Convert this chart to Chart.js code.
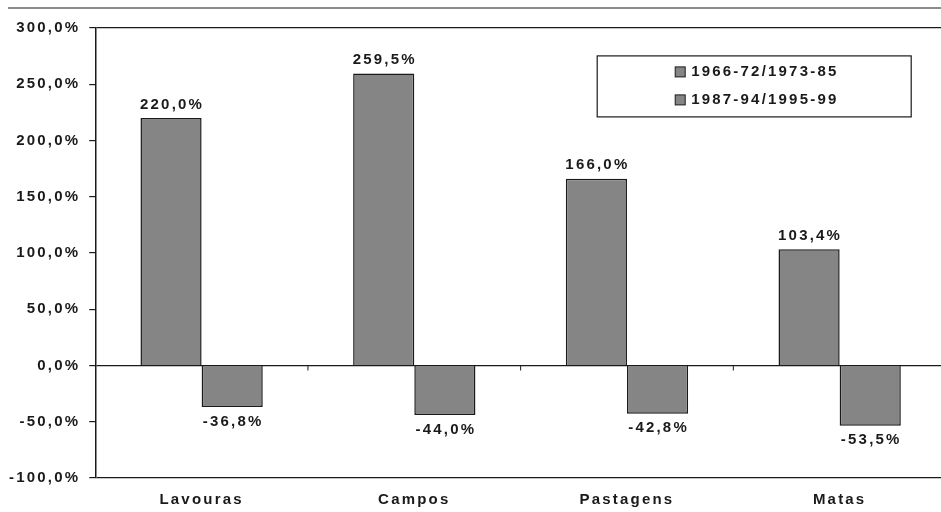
<!DOCTYPE html>
<html>
<head>
<meta charset="utf-8">
<script src="https://cdn.jsdelivr.net/npm/chart.js@4.4.1/dist/chart.umd.min.js"></script>
<style>
  html, body { margin: 0; padding: 0; background: #fff; overflow: hidden; }
  #wrap { width: 941px; height: 512px; overflow: hidden; }
  canvas { display: block; }
</style>
</head>
<body>
<div id="wrap"><canvas id="c" width="962" height="512"></canvas></div>
<script>
// Land-use categories and percentage changes between census periods
const categories = ['Lavouras', 'Campos', 'Pastagens', 'Matas'];
const seriesNames = ['1966-72/1973-85', '1987-94/1995-99'];
const change1966_1985 = [220.0, 259.5, 166.0, 103.4];
const change1987_1999 = [-36.8, -44.0, -42.8, -53.5];
const yTicks = [-100, -50, 0, 50, 100, 150, 200, 250, 300];

const FONT = { family: '"Liberation Sans", Arial, sans-serif', size: 15, weight: 'bold' };
const SPACING = '2.2px';
const INK = '#1a1a1a';
const BAR = '#858585';

const fmt = v => v.toFixed(1).replace('.', ',') + '%';

// wide-tracked lettering used throughout the figure
const tracking = {
  id: 'tracking',
  beforeUpdate(chart) { chart.ctx.letterSpacing = SPACING; },
  beforeLayout(chart) { chart.ctx.letterSpacing = SPACING; },
  beforeDraw(chart) { chart.ctx.letterSpacing = SPACING; }
};

// thin rule across the top of the figure
const headerRule = {
  id: 'headerRule',
  afterDraw(chart, args, opts) {
    const ctx = chart.ctx;
    ctx.save();
    ctx.strokeStyle = INK;
    ctx.lineWidth = 1.2;
    ctx.beginPath();
    ctx.moveTo(opts.x0, opts.y);
    ctx.lineTo(chart.width, opts.y);
    ctx.stroke();
    ctx.restore();
  }
};

// small category separators hanging from the zero line
const zeroTicks = {
  id: 'zeroTicks',
  afterDatasetsDraw(chart) {
    const xs = chart.scales.x, ys = chart.scales.y;
    const y0 = ys.getPixelForValue(0);
    const ctx = chart.ctx;
    ctx.save();
    ctx.strokeStyle = INK;
    ctx.lineWidth = 1;
    for (let i = 1; i < categories.length; i++) {
      const x = (xs.getPixelForTick(i - 1) + xs.getPixelForTick(i)) / 2;
      ctx.beginPath();
      ctx.moveTo(x, y0);
      ctx.lineTo(x, y0 + 5);
      ctx.stroke();
    }
    ctx.restore();
  }
};

// value labels above positive bars and below negative bars
const valueLabels = {
  id: 'valueLabels',
  afterDatasetsDraw(chart) {
    const ctx = chart.ctx;
    ctx.save();
    ctx.letterSpacing = SPACING;
    ctx.font = `${FONT.weight} ${FONT.size}px ${FONT.family}`;
    ctx.fillStyle = INK;
    ctx.textAlign = 'center';
    chart.data.datasets.forEach((ds, di) => {
      chart.getDatasetMeta(di).data.forEach((bar, i) => {
        const v = ds.data[i];
        if (v >= 0) {
          ctx.textBaseline = 'bottom';
          ctx.fillText(fmt(v), bar.x + 1, bar.y - 6);
        } else {
          ctx.textBaseline = 'top';
          ctx.fillText(fmt(v), bar.x + 1, bar.y + 7);
        }
      });
    });
    ctx.restore();
  }
};

// boxed legend placed inside the plot area
const boxLegend = {
  id: 'boxLegend',
  afterDraw(chart, args, opts) {
    const ctx = chart.ctx;
    const ca = chart.chartArea;
    const x = ca.left + opts.left * (ca.right - ca.left);
    const y = ca.top + opts.top * (ca.bottom - ca.top);
    ctx.save();
    ctx.fillStyle = '#fff';
    ctx.fillRect(x, y, opts.width, opts.height);
    ctx.strokeStyle = INK;
    ctx.lineWidth = 1.2;
    ctx.strokeRect(x, y, opts.width, opts.height);
    ctx.letterSpacing = SPACING;
    ctx.font = `${FONT.weight} ${FONT.size}px ${FONT.family}`;
    ctx.textAlign = 'left';
    ctx.textBaseline = 'middle';
    chart.data.datasets.forEach((ds, i) => {
      const cy = y + opts.firstRow + i * opts.rowGap;
      const sx = x + opts.swatchX;
      ctx.fillStyle = ds.backgroundColor;
      ctx.fillRect(sx, cy - 5, 10, 10);
      ctx.strokeStyle = INK;
      ctx.lineWidth = 1;
      ctx.strokeRect(sx, cy - 5, 10, 10);
      ctx.fillStyle = INK;
      ctx.fillText(ds.label, sx + 16, cy);
    });
    ctx.restore();
  }
};

const strongLines = new Set([-100, 0, 300]);

new Chart(document.getElementById('c'), {
  type: 'bar',
  data: {
    labels: categories,
    datasets: [
      { label: seriesNames[0], data: change1966_1985 },
      { label: seriesNames[1], data: change1987_1999 }
    ].map(d => Object.assign(d, {
      backgroundColor: BAR,
      borderColor: INK,
      borderWidth: 1.5,
      borderSkipped: 'start',
      categoryPercentage: 0.575,
      barPercentage: 1
    }))
  },
  options: {
    responsive: false,
    animation: false,
    devicePixelRatio: 1,
    layout: { padding: { top: 28, right: 16, left: 0, bottom: 0 } },
    plugins: {
      legend: { display: false },
      tooltip: { enabled: false },
      headerRule: { x0: 8, y: 8 },
      boxLegend: { left: 0.59, top: 0.062, width: 314, height: 61, firstRow: 16, rowGap: 28, swatchX: 78 }
    },
    scales: {
      x: {
        grid: { display: false, drawTicks: false },
        border: { display: false },
        ticks: { color: INK, font: FONT, padding: 13 },
        afterFit(scale) { scale.height = 34; }
      },
      y: {
        min: -100,
        max: 300,
        afterBuildTicks(scale) { scale.ticks = yTicks.map(v => ({ value: v })); },
        grid: {
          color: c => strongLines.has(c.tick.value) ? INK : 'rgba(0,0,0,0)',
          lineWidth: 1.2,
          tickColor: INK,
          tickLength: 6,
          drawTicks: true
        },
        border: { display: true, color: INK, width: 1.5 },
        ticks: { color: INK, font: FONT, padding: 9, callback: v => fmt(v) }
      }
    }
  },
  plugins: [tracking, headerRule, zeroTicks, valueLabels, boxLegend]
});
</script>
</body>
</html>
